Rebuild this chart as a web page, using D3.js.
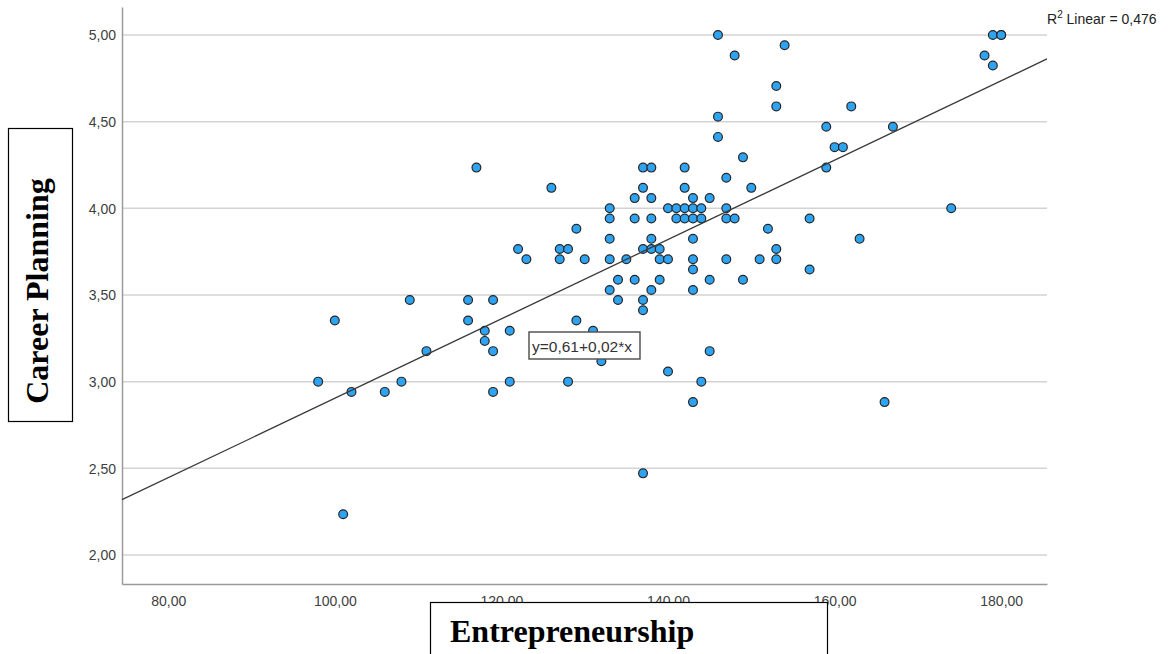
<!DOCTYPE html>
<html>
<head>
<meta charset="utf-8">
<script src="https://cdn.jsdelivr.net/npm/d3@7/dist/d3.min.js"></script>
<style>
  html, body { margin: 0; padding: 0; background: #fff; }
  svg { display: block; }
</style>
</head>
<body>
<svg id="chart" width="1170" height="654"></svg>
<script>
// ---- Data ----
const entrepreneurship = [
  146, 179, 180, 180,
  154,
  148, 178,
  179,
  153,
  153, 162,
  146,
  159, 167,
  146,
  160, 161,
  149,
  117, 137, 138, 142, 159,
  147,
  126, 137, 142, 150,
  136, 138, 143, 145,
  133, 140, 141, 142, 143, 144, 147, 174,
  133, 136, 138, 141, 142, 143, 144, 147, 148, 157,
  129, 152,
  133, 138, 143, 163,
  122, 127, 128, 137, 138, 139, 153,
  123, 127, 130, 133, 135, 139, 140, 143, 147, 151, 153,
  143, 157,
  134, 136, 139, 145, 149,
  133, 138, 143,
  109, 116, 119, 134, 137,
  137,
  100, 116, 129,
  118, 121, 131,
  118,
  111, 119, 145,
  132,
  140,
  98, 108, 121, 128, 144,
  102, 106, 119,
  143, 166,
  137,
  101
];
const careerPlanning = [
  5.000, 5.000, 5.000, 5.000,
  4.941,
  4.882, 4.882,
  4.824,
  4.706,
  4.588, 4.588,
  4.529,
  4.471, 4.471,
  4.412,
  4.353, 4.353,
  4.294,
  4.235, 4.235, 4.235, 4.235, 4.235,
  4.176,
  4.118, 4.118, 4.118, 4.118,
  4.059, 4.059, 4.059, 4.059,
  4.000, 4.000, 4.000, 4.000, 4.000, 4.000, 4.000, 4.000,
  3.941, 3.941, 3.941, 3.941, 3.941, 3.941, 3.941, 3.941, 3.941, 3.941,
  3.882, 3.882,
  3.824, 3.824, 3.824, 3.824,
  3.765, 3.765, 3.765, 3.765, 3.765, 3.765, 3.765,
  3.706, 3.706, 3.706, 3.706, 3.706, 3.706, 3.706, 3.706, 3.706, 3.706, 3.706,
  3.647, 3.647,
  3.588, 3.588, 3.588, 3.588, 3.588,
  3.529, 3.529, 3.529,
  3.471, 3.471, 3.471, 3.471, 3.471,
  3.412,
  3.353, 3.353, 3.353,
  3.294, 3.294, 3.294,
  3.235,
  3.176, 3.176, 3.176,
  3.118,
  3.059,
  3.000, 3.000, 3.000, 3.000, 3.000,
  2.941, 2.941, 2.941,
  2.882, 2.882,
  2.471,
  2.235
];
const xTicks = [80, 100, 120, 140, 160, 180];
const yTicks = [2.0, 2.5, 3.0, 3.5, 4.0, 4.5, 5.0];
const xDomain = [74.45, 185.5];
const yDomain = [1.8326, 5.1615];
const fitIntercept = 0.614;
const fitSlope = 0.0229;
const equationLabel = "y=0,61+0,02*x";
const r2Value = "0,476";
const xTitle = "Entrepreneurship";
const yTitle = "Career Planning";

// ---- Layout ----
const svg = d3.select("#chart");
const plot = { left: 122, right: 1047, top: 7, bottom: 584 };

const x = d3.scaleLinear().domain(xDomain).range([plot.left, plot.right]);
const y = d3.scaleLinear().domain(yDomain).range([plot.bottom, plot.top]);
const fmt = v => d3.format(".2f")(v).replace(".", ",");

// gridlines
svg.append("g").selectAll("line").data(yTicks).join("line")
  .attr("x1", plot.left).attr("x2", plot.right)
  .attr("y1", d => y(d)).attr("y2", d => y(d))
  .attr("stroke", "#d3d3d3").attr("stroke-width", 1.5);

// y axis
const yAxis = svg.append("g").attr("transform", `translate(${plot.left},0)`)
  .call(d3.axisLeft(y).tickValues(yTicks).tickFormat(fmt).tickSize(0).tickPadding(6));
yAxis.select(".domain").attr("stroke", "#9a9a9a").attr("stroke-width", 1.5);
yAxis.selectAll("text").attr("font-family", "'Liberation Sans', Arial, sans-serif")
  .attr("font-size", 14).attr("fill", "#404040").attr("dy", "0.34em");

// x axis
const xAxis = svg.append("g").attr("transform", `translate(0,${plot.bottom})`)
  .call(d3.axisBottom(x).tickValues(xTicks).tickFormat(fmt).tickSize(0).tickPadding(12));
xAxis.select(".domain").attr("stroke", "#9a9a9a").attr("stroke-width", 1.5);
xAxis.selectAll("text").attr("font-family", "'Liberation Sans', Arial, sans-serif")
  .attr("font-size", 14).attr("fill", "#404040");

// points
const pts = entrepreneurship.map((v, i) => ({ x: v, y: careerPlanning[i] }));
svg.append("g").selectAll("circle").data(pts).join("circle")
  .attr("cx", d => x(d.x)).attr("cy", d => y(d.y)).attr("r", 4.4)
  .attr("fill", "#2ea3f2").attr("stroke", "#262626").attr("stroke-width", 1.2);

// fit line
svg.append("line")
  .attr("x1", x(xDomain[0])).attr("y1", y(fitIntercept + fitSlope * xDomain[0]))
  .attr("x2", x(xDomain[1])).attr("y2", y(fitIntercept + fitSlope * xDomain[1]))
  .attr("stroke", "#3a3a3a").attr("stroke-width", 1.3);

// equation box
const eqX = 529, eqY = 332;
svg.append("rect").attr("x", eqX).attr("y", eqY).attr("width", 111).attr("height", 27)
  .attr("fill", "#fff").attr("stroke", "#555").attr("stroke-width", 1.5);
svg.append("text").attr("x", eqX + 3).attr("y", eqY + 20)
  .attr("font-family", "'Liberation Sans', Arial, sans-serif").attr("font-size", 15.5)
  .attr("fill", "#333").text(equationLabel);

// R² label
const r2 = svg.append("text").attr("x", 1047).attr("y", 24)
  .attr("font-family", "'Liberation Sans', Arial, sans-serif").attr("font-size", 14)
  .attr("fill", "#222");
r2.append("tspan").text("R");
r2.append("tspan").attr("font-size", 10).attr("dy", -6).text("2");
r2.append("tspan").attr("dy", 6).text(" Linear = " + r2Value);

// y title box
svg.append("rect").attr("x", 8.5).attr("y", 128.5).attr("width", 64).attr("height", 293)
  .attr("fill", "#fff").attr("stroke", "#000").attr("stroke-width", 1.2);
svg.append("text").attr("transform", "translate(48,291) rotate(-90)")
  .attr("text-anchor", "middle")
  .attr("font-family", "'Liberation Serif', 'Times New Roman', serif")
  .attr("font-weight", "bold").attr("font-size", 32).attr("fill", "#000")
  .text(yTitle);

// x title box
svg.append("rect").attr("x", 430.5).attr("y", 602.5).attr("width", 397).attr("height", 80)
  .attr("fill", "#fff").attr("stroke", "#000").attr("stroke-width", 1.2);
svg.append("text").attr("x", 450).attr("y", 642)
  .attr("font-family", "'Liberation Serif', 'Times New Roman', serif")
  .attr("font-weight", "bold").attr("font-size", 32).attr("fill", "#000")
  .text(xTitle);
</script>
</body>
</html>
